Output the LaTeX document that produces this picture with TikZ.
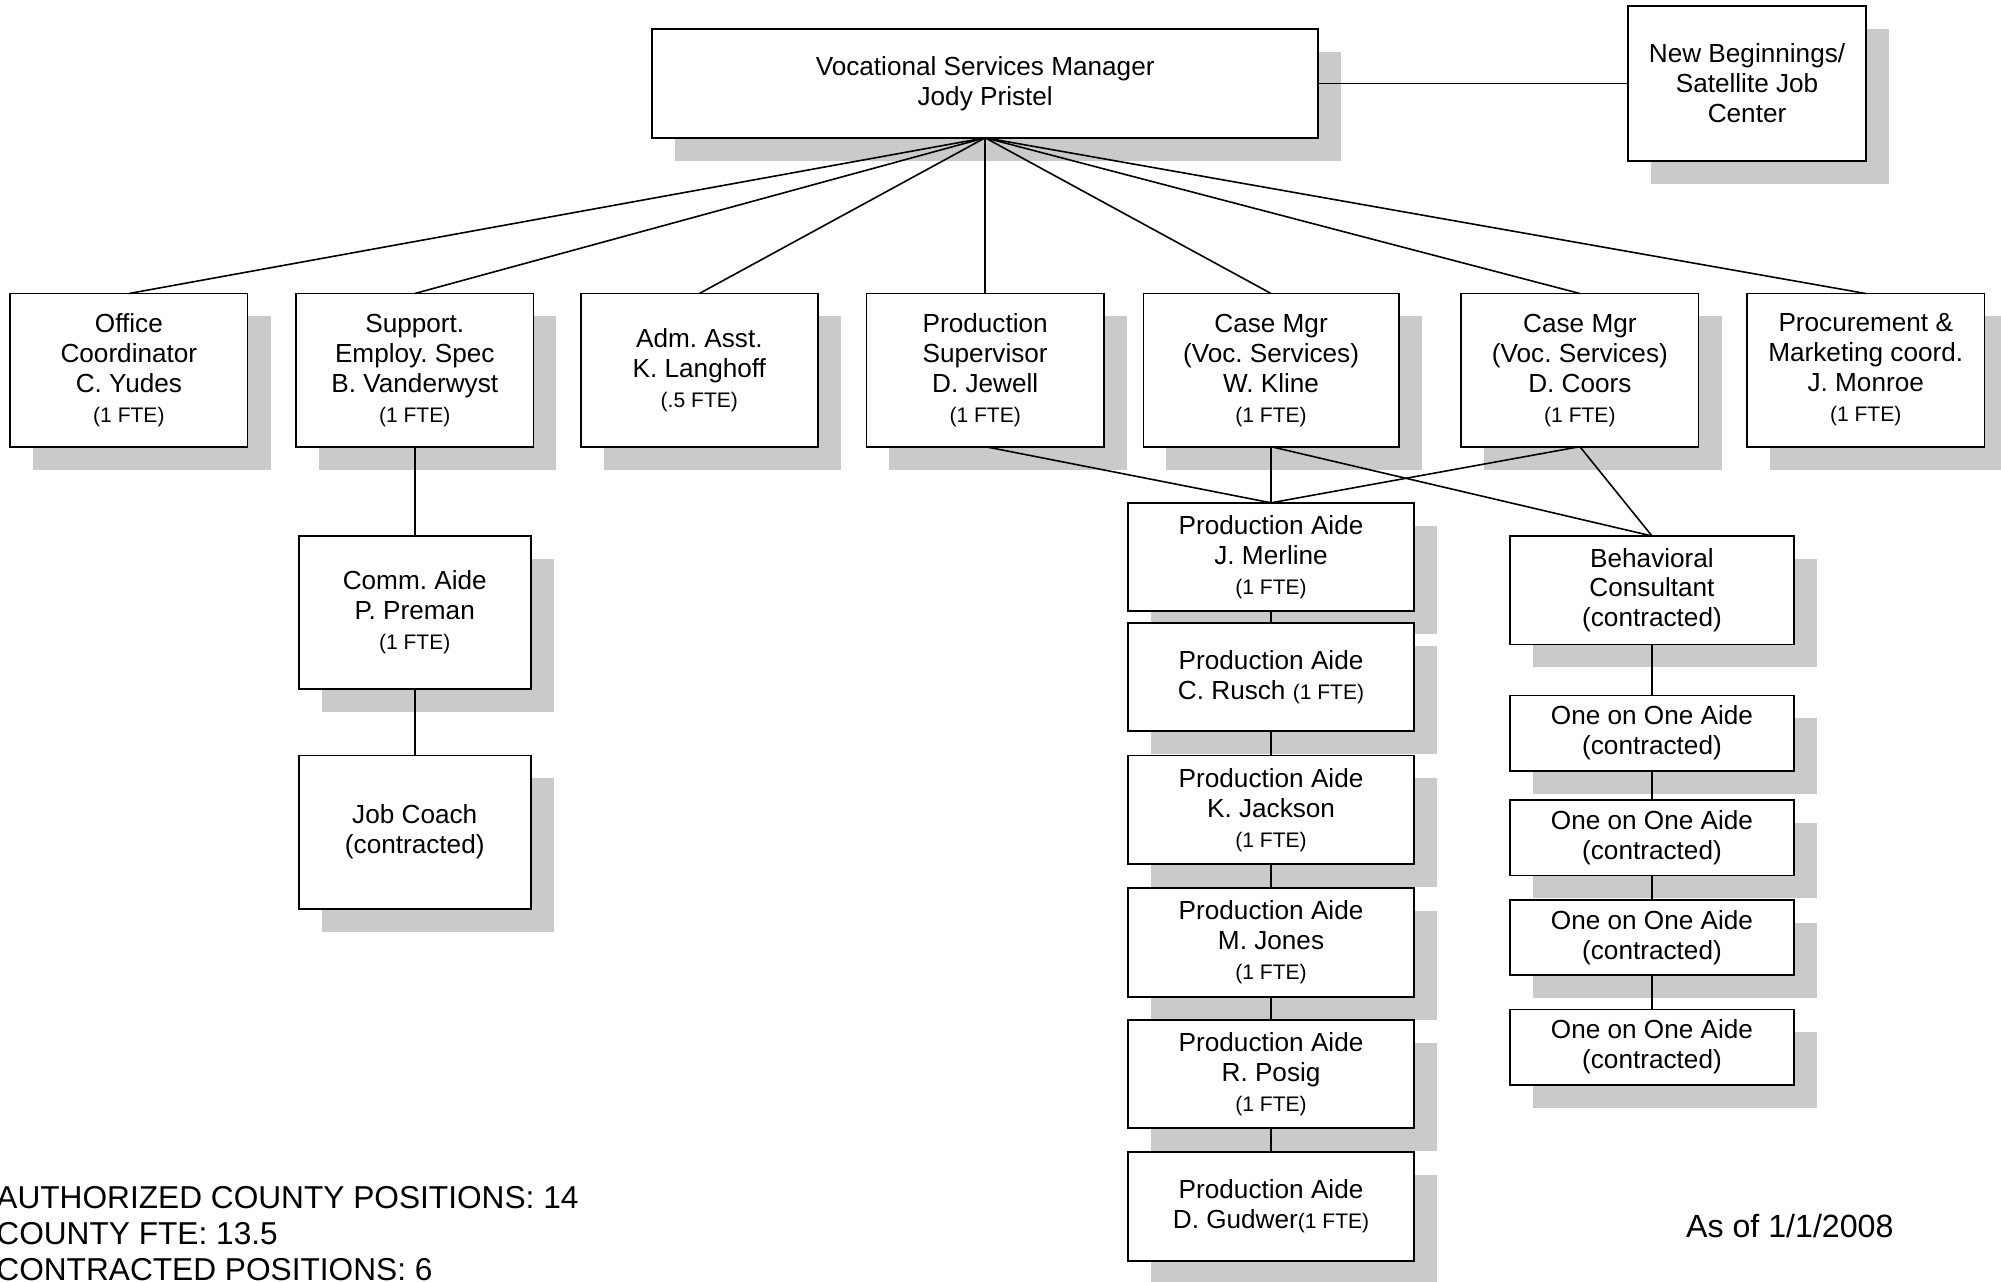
\documentclass[tikz,border=0pt]{standalone}
\usepackage{fontspec}
\setmainfont{Liberation Sans}
\usepackage{tikz}
\usetikzlibrary{positioning,shadows}
\frenchspacing
\definecolor{chartInk}{RGB}{0,0,0}
\definecolor{chartShade}{RGB}{202,202,202}
\newcommand{\fte}[1]{{\fontsize{16.5}{19}\selectfont(#1)}}
\tikzset{
  chart node/.style={draw=chartInk,fill=white,line width=1.4pt,align=center,inner sep=0pt,outer sep=0pt,text=chartInk,font=\fontsize{20.5}{23.5}\selectfont,drop shadow={shadow xshift=18pt,shadow yshift=-18pt,fill=chartShade,opacity=1}},
  row node/.style={chart node,minimum width=186pt,minimum height=120pt},
  aide node/.style={chart node,minimum width=224pt,minimum height=85pt},
  helper node/.style={chart node,minimum width=223pt,minimum height=59pt},
  chart line/.style={draw=chartInk,line width=1.25pt},
  note text/.style={align=left,inner sep=0pt,text=chartInk,font=\fontsize{24.8}{28}\selectfont}
}

\begin{document}
\begin{tikzpicture}[x=1pt,y=-1pt]
    \path[use as bounding box,fill=white] (0,0) rectangle (1568,1004);
    % top of the chart
    \node[chart node,minimum width=522pt,minimum height=85pt] (mgr) at (772,65.5) {Vocational Services Manager\\Jody Pristel};
    \node[chart node,minimum width=186pt,minimum height=121pt] (nb) at (1369,65.5) {New Beginnings/\\Satellite Job\\Center};
    % second row
    \node[row node] (office) at (101,290) {Office\\Coordinator\\C. Yudes\\\fte{1 FTE}};
    \node[row node] (support) at (325,290) {Support.\\Employ. Spec\\B. Vanderwyst\\\fte{1 FTE}};
    \node[row node] (adm) at (548,290) {Adm. Asst.\\K. Langhoff\\\fte{.5 FTE}};
    \node[row node] (prodsup) at (772,290) {Production\\Supervisor\\D. Jewell\\\fte{1 FTE}};
    \node[row node,minimum width=200pt] (kline) at (996,290) {Case Mgr\\(Voc. Services)\\W. Kline\\\fte{1 FTE}};
    \node[row node] (coors) at (1238,290) {Case Mgr\\(Voc. Services)\\D. Coors\\\fte{1 FTE}};
    \node[row node] (procure) at (1462,290) {Procurement \&\\Marketing coord.\\J. Monroe\\\fte{1 FTE}};
    % support column
    \node[row node,minimum width=182pt] (comm) at (325,480) {Comm. Aide\\P. Preman\\\fte{1 FTE}};
    \node[row node,minimum width=182pt,below=52pt of comm] (coach) {Job Coach\\(contracted)};
    % production aides
    \node[aide node] (merline) at (996,436.5) {Production Aide\\J. Merline\\\fte{1 FTE}};
    \node[aide node,below=9pt of merline] (rusch) {Production Aide\\C. Rusch \fte{1 FTE}};
    \node[aide node,below=19pt of rusch] (jackson) {Production Aide\\K. Jackson\\\fte{1 FTE}};
    \node[aide node,below=19pt of jackson] (jones) {Production Aide\\M. Jones\\\fte{1 FTE}};
    \node[aide node,below=18pt of jones] (posig) {Production Aide\\R. Posig\\\fte{1 FTE}};
    \node[aide node,below=19pt of posig] (gudwer) {Production Aide\\D. Gudwer\fte{1 FTE}};
    % behavioral column
    \node[aide node,minimum width=223pt] (behav) at (1294.5,462.5) {Behavioral\\Consultant\\(contracted)};
    \node[helper node,below=40pt of behav] (ooaA) {One on One Aide\\(contracted)};
    \node[helper node,below=23pt of ooaA] (ooaB) {One on One Aide\\(contracted)};
    \node[helper node,below=19pt of ooaB] (ooaC) {One on One Aide\\(contracted)};
    \node[helper node,below=27pt of ooaC] (ooaD) {One on One Aide\\(contracted)};
    % notes
    \node[note text,anchor=north west] (counts) at (-3,929.5) {AUTHORIZED COUNTY POSITIONS: 14\\COUNTY FTE: 13.5\\CONTRACTED POSITIONS: 6};
    \node[note text,font=\fontsize{25.2}{28}\selectfont] (asof) at (1402.5,961) {As of 1/1/2008};
    % connectors
    \draw[chart line] (mgr.east) -- (nb.west);
    \foreach \n in {office,support,adm,prodsup,kline,coors,procure}
      \draw[chart line] (mgr.south) -- (\n.north);
    \draw[chart line] (support.south) -- (comm.north);
    \draw[chart line] (comm.south) -- (coach.north);
    \draw[chart line] (prodsup.south) -- (merline.north);
    \draw[chart line] (kline.south) -- (merline.north);
    \draw[chart line] (coors.south) -- (merline.north);
    \draw[chart line] (kline.south) -- (behav.north);
    \draw[chart line] (coors.south) -- (behav.north);
    \foreach \a/\b in {merline/rusch,rusch/jackson,jackson/jones,jones/posig,posig/gudwer,behav/ooaA,ooaA/ooaB,ooaB/ooaC,ooaC/ooaD}
      \draw[chart line] (\a.south) -- (\b.north);
  \end{tikzpicture}
\end{document}
